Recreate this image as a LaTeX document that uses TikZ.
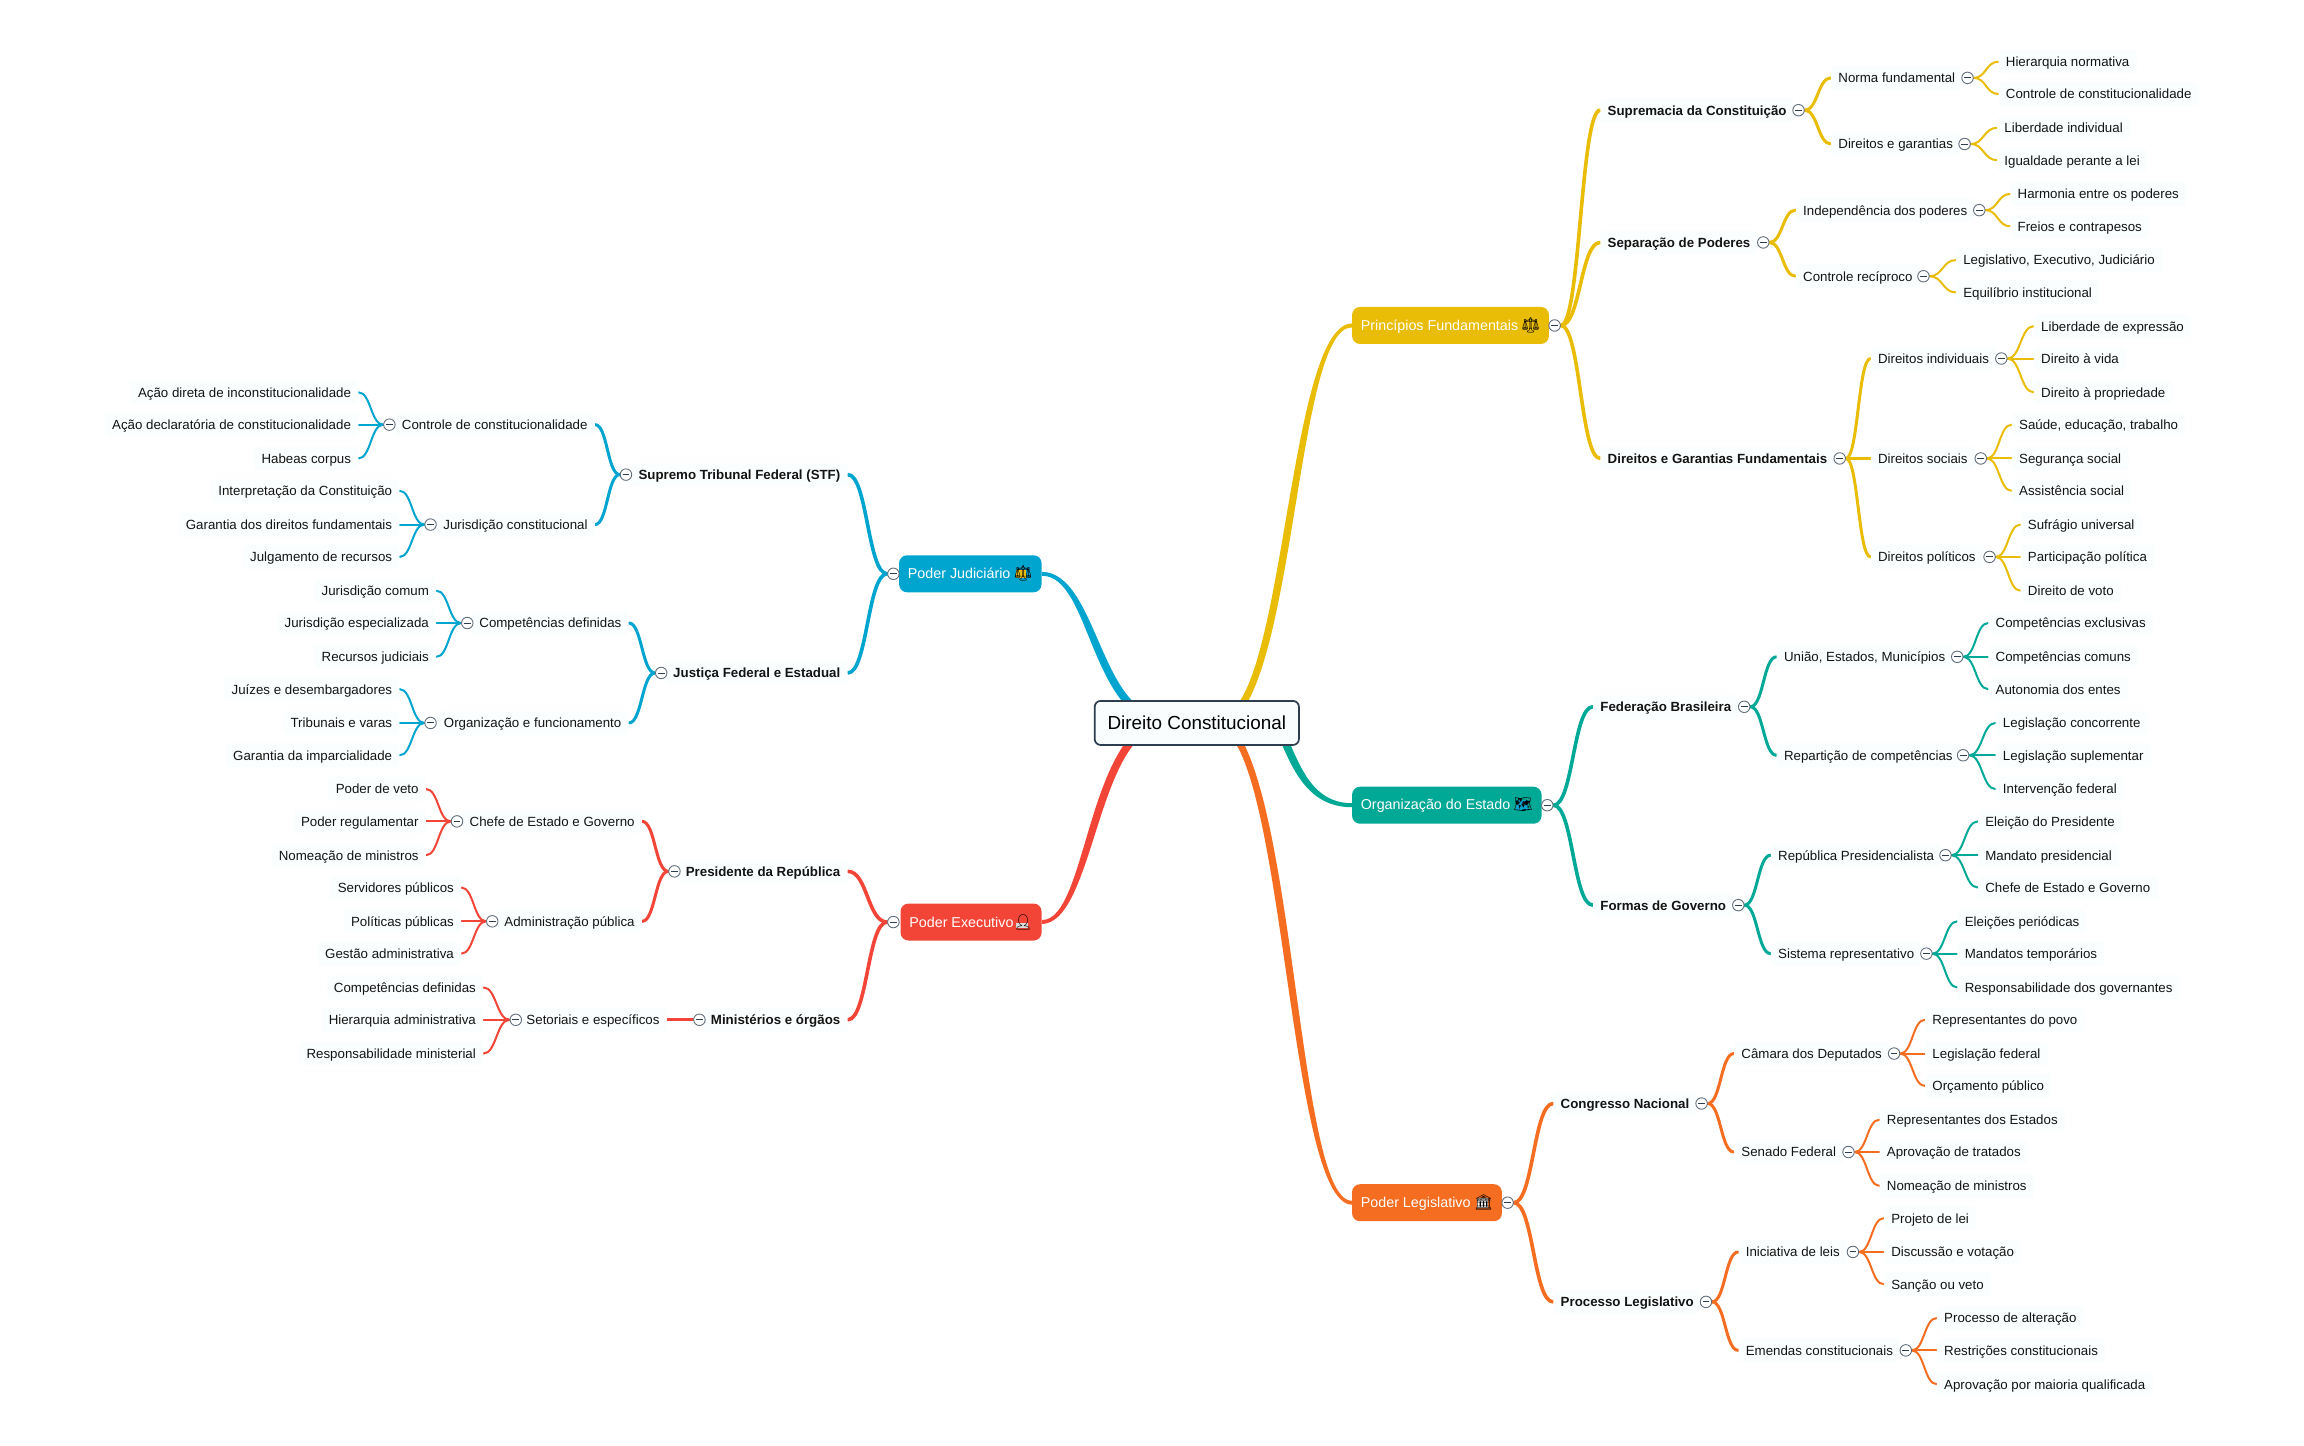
\documentclass[tikz,border=0pt]{standalone}
\usepackage{fontspec}
\setmainfont{Liberation Sans}
\newfontfamily\emo{Noto Emoji}
\usetikzlibrary{calc}
\pgfdeclarelayer{bg}
\pgfsetlayers{bg,main}
\newdimen\dd \dd=1.46939pt
\definecolor{cyel}{HTML}{E9BC05}
\definecolor{cblu}{HTML}{00A5CF}
\definecolor{ctea}{HTML}{00A896}
\definecolor{cred}{HTML}{F24537}
\definecolor{cora}{HTML}{F46D20}
\definecolor{cnav}{HTML}{2C3E50}
\definecolor{ctxt}{HTML}{141414}
\colorlet{cc}{cyel}
\tikzset{
  lvbase/.style={inner xsep=5\dd,inner ysep=0pt,minimum height=24pt,text height=11pt,text depth=1.2pt,fill=white!97!cblu!50!white,rounded corners=4pt,text=ctxt,font=\fontsize{13.3}{16}\selectfont},
  lv2/.style={lvbase,font=\fontsize{13.3}{16}\selectfont\bfseries},
  lv3/.style={lvbase},
  lv4/.style={lvbase},
  ln2/.style={draw=cc,line width=3.6pt,line cap=round},
  ln3/.style={draw=cc,line width=3pt,line cap=round},
  ln4/.style={draw=cc,line width=2pt,line cap=round},
  tog/.style={circle,draw=cnav!75!white,fill=white,line width=.9pt,minimum size=11.5pt,inner sep=0pt,
    path picture={\draw[cnav,line width=.9pt] ([xshift=-3.4pt]path picture bounding box.center)--([xshift=3.4pt]path picture bounding box.center);}},
  top/.style={fill=cc,rounded corners=8pt,inner xsep=6\dd,inner ysep=0pt,minimum height=37pt,text=white,font=\fontsize{14.3}{16}\selectfont},
  rootn/.style={draw=cnav,line width=1.7pt,fill=white!98!cblu,rounded corners=6pt,minimum width=139\dd,minimum height=30\dd,inner sep=0pt,text=black,font=\fontsize{18.9}{22}\selectfont}
}
% emoji: underlay colour, underlay width, height, raise (pt), glyph
\newcommand{\EM}[5]{{\emo\fontsize{15}{16}\selectfont\makebox[0pt][l]{\hspace{2.5pt}\raisebox{#4}{\textcolor{#1}{\rule{#2}{#3}}}}\textcolor{black}{#5}}}
% right-going child: level, name, from, text x, y, text
\newcommand{\RL}[6]{\node[lv#1,anchor=west] (#2) at (#4-5,#5) {#6};
 \begin{pgfonlayer}{bg}\draw[ln#1] let \p1=(#3.east),\p2=(#2.west) in (\p1) .. controls ({(\x1+\x2)/2},\y1) and ({(\x1+\x2)/2},\y2) .. (\p2);\end{pgfonlayer}}
% left-going child
\newcommand{\LL}[6]{\node[lv#1,anchor=east] (#2) at (#4+5,#5) {#6};
 \begin{pgfonlayer}{bg}\draw[ln#1] let \p1=(#3.west),\p2=(#2.east) in (\p1) .. controls ({(\x1+\x2)/2},\y1) and ({(\x1+\x2)/2},\y2) .. (\p2);\end{pgfonlayer}}
\newcommand{\TG}[3]{\node[tog] (#1) at (#2,#3) {};}
% tapered root link: s, c1, c2, end node anchor
\newcommand{\TP}[4]{\begin{pgfonlayer}{bg}
 \coordinate (s) at #1; \coordinate (p) at #2; \coordinate (q) at #3; \coordinate (e) at #4;
 \coordinate (d) at ($(q)+(e)-(p)$);
 \fill[cc] ($(s)!6pt!90:(p)$) .. controls ($(p)!5.5pt!90:(q)$) and ($(q)!3.8pt!90:(d)$) .. ($(e)!2pt!-90:(q)$)
   -- ($(e)!2pt!90:(q)$) .. controls ($(q)!3.8pt!-90:(d)$) and ($(p)!5.5pt!-90:(q)$) .. ($(s)!6pt!-90:(p)$) -- cycle;
 \end{pgfonlayer}}
\begin{document}
\begin{tikzpicture}[x=1.46939pt,y=-1.46939pt]
\useasboundingbox (0,0) rectangle (1568,984.07);
\node[rootn] (root) at (814.5,492) {Direito Constitucional};

% ---------- Principios
\colorlet{cc}{cyel}
\node[top,anchor=west] (A) at (920,221.5) {\hbox to 122\dd{Princípios Fundamentais\hfill\EM{cyel}{0pt}{0pt}{0pt}{^^^^2696}}};
\TP{(829,491)}{(878,491)}{(878,221.5)}{(A.west)}
\TG{tA}{1058}{221.5}
\RL{2}{A1}{tA}{1094}{75}{Supremacia da Constituição}
\TG{tA1}{1224}{75}
\RL{3}{A11}{tA1}{1251}{53}{Norma fundamental}
\TG{tA11}{1339}{53}
\RL{4}{A111}{tA11}{1365}{42}{Hierarquia normativa}
\RL{4}{A112}{tA11}{1365}{64}{Controle de constitucionalidade}
\RL{3}{A12}{tA1}{1251}{98}{Direitos e garantias}
\TG{tA12}{1337}{98}
\RL{4}{A121}{tA12}{1364}{87}{Liberdade individual}
\RL{4}{A122}{tA12}{1364}{109}{Igualdade perante a lei}
\RL{2}{A2}{tA}{1094}{165}{Separação de Poderes}
\TG{tA2}{1200}{165}
\RL{3}{A21}{tA2}{1227}{143}{Independência dos poderes}
\TG{tA21}{1347}{143}
\RL{4}{A211}{tA21}{1373}{132}{Harmonia entre os poderes}
\RL{4}{A212}{tA21}{1373}{154}{Freios e contrapesos}
\RL{3}{A22}{tA2}{1227}{188}{Controle recíproco}
\TG{tA22}{1309}{188}
\RL{4}{A221}{tA22}{1336}{177}{Legislativo, Executivo, Judiciário}
\RL{4}{A222}{tA22}{1336}{199}{Equilíbrio institucional}
\RL{2}{A3}{tA}{1094}{312}{Direitos e Garantias Fundamentais}
\TG{tA3}{1252}{312}
\RL{3}{A31}{tA3}{1278}{244}{Direitos individuais}
\TG{tA31}{1362}{244}
\RL{4}{A311}{tA31}{1389}{222}{Liberdade de expressão}
\RL{4}{A312}{tA31}{1389}{244}{Direito à vida}
\RL{4}{A313}{tA31}{1389}{267}{Direito à propriedade}
\RL{3}{A32}{tA3}{1278}{312}{Direitos sociais}
\TG{tA32}{1348}{312}
\RL{4}{A321}{tA32}{1374}{289}{Saúde, educação, trabalho}
\RL{4}{A322}{tA32}{1374}{312}{Segurança social}
\RL{4}{A323}{tA32}{1374}{334}{Assistência social}
\RL{3}{A33}{tA3}{1278}{379}{Direitos políticos}
\TG{tA33}{1354}{379}
\RL{4}{A331}{tA33}{1380}{357}{Sufrágio universal}
\RL{4}{A332}{tA33}{1380}{379}{Participação política}
\RL{4}{A333}{tA33}{1380}{402}{Direito de voto}

% ---------- Organizacao
\colorlet{cc}{ctea}
\node[top,anchor=west] (B) at (920,548) {\hbox to 117\dd{Organização do Estado\hfill\EM{cblu}{12pt}{10pt}{-0.5pt}{^^^^^^01f5fa}}};
\TP{(862,491)}{(878,491)}{(878,548)}{(B.west)}
\TG{tB}{1053}{548}
\RL{2}{B1}{tB}{1089}{481}{Federação Brasileira}
\TG{tB1}{1187}{481}
\RL{3}{B11}{tB1}{1214}{447}{União, Estados, Municípios}
\TG{tB11}{1332}{447}
\RL{4}{B111}{tB11}{1358}{424}{Competências exclusivas}
\RL{4}{B112}{tB11}{1358}{447}{Competências comuns}
\RL{4}{B113}{tB11}{1358}{469}{Autonomia dos entes}
\RL{3}{B12}{tB1}{1214}{514}{Repartição de competências}
\TG{tB12}{1336}{514}
\RL{4}{B121}{tB12}{1363}{492}{Legislação concorrente}
\RL{4}{B122}{tB12}{1363}{514}{Legislação suplementar}
\RL{4}{B123}{tB12}{1363}{537}{Intervenção federal}
\RL{2}{B2}{tB}{1089}{616}{Formas de Governo}
\TG{tB2}{1183}{616}
\RL{3}{B21}{tB2}{1210}{582}{República Presidencialista}
\TG{tB21}{1324}{582}
\RL{4}{B211}{tB21}{1351}{559}{Eleição do Presidente}
\RL{4}{B212}{tB21}{1351}{582}{Mandato presidencial}
\RL{4}{B213}{tB21}{1351}{604}{Chefe de Estado e Governo}
\RL{3}{B22}{tB2}{1210}{649}{Sistema representativo}
\TG{tB22}{1311}{649}
\RL{4}{B221}{tB22}{1337}{627}{Eleições periódicas}
\RL{4}{B222}{tB22}{1337}{649}{Mandatos temporários}
\RL{4}{B223}{tB22}{1337}{672}{Responsabilidade dos governantes}

% ---------- Legislativo
\colorlet{cc}{cora}
\node[top,anchor=west] (C) at (920,818.5) {\hbox to 90\dd{Poder Legislativo\hfill\EM{white}{11pt}{10pt}{-0.5pt}{^^^^^^01f3db}}};
\TP{(826,491)}{(878,491)}{(878,818.5)}{(C.west)}
\TG{tC}{1026}{818.5}
\RL{2}{C1}{tC}{1062}{751}{Congresso Nacional}
\TG{tC1}{1158}{751}
\RL{3}{C11}{tC1}{1185}{717}{Câmara dos Deputados}
\TG{tC11}{1289}{717}
\RL{4}{C111}{tC11}{1315}{694}{Representantes do povo}
\RL{4}{C112}{tC11}{1315}{717}{Legislação federal}
\RL{4}{C113}{tC11}{1315}{739}{Orçamento público}
\RL{3}{C12}{tC1}{1185}{784}{Senado Federal}
\TG{tC12}{1258}{784}
\RL{4}{C121}{tC12}{1284}{762}{Representantes dos Estados}
\RL{4}{C122}{tC12}{1284}{784}{Aprovação de tratados}
\RL{4}{C123}{tC12}{1284}{807}{Nomeação de ministros}
\RL{2}{C2}{tC}{1062}{886}{Processo Legislativo}
\TG{tC2}{1161}{886}
\RL{3}{C21}{tC2}{1188}{852}{Iniciativa de leis}
\TG{tC21}{1261}{852}
\RL{4}{C211}{tC21}{1287}{829}{Projeto de lei}
\RL{4}{C212}{tC21}{1287}{852}{Discussão e votação}
\RL{4}{C213}{tC21}{1287}{874}{Sanção ou veto}
\RL{3}{C22}{tC2}{1188}{919}{Emendas constitucionais}
\TG{tC22}{1297}{919}
\RL{4}{C221}{tC22}{1323}{897}{Processo de alteração}
\RL{4}{C222}{tC22}{1323}{919}{Restrições constitucionais}
\RL{4}{C223}{tC22}{1323}{942}{Aprovação por maioria qualificada}

% ---------- Judiciario
\colorlet{cc}{cblu}
\node[top,anchor=east] (D) at (709,390.5) {\hbox to 85\dd{Poder Judiciário\hfill\EM{cyel}{10pt}{8pt}{1pt}{^^^^2696}}};
\TP{(795,491)}{(745,491)}{(745,390.5)}{(D.east)}
\TG{tD}{608}{390.5}
\LL{2}{D1}{tD}{572}{323}{Supremo Tribunal Federal (STF)}
\TG{tD1}{426}{323}
\LL{3}{D11}{tD1}{400}{289}{Controle de constitucionalidade}
\TG{tD11}{265}{289}
\LL{4}{D111}{tD11}{239}{267}{Ação direta de inconstitucionalidade}
\LL{4}{D112}{tD11}{239}{289}{Ação declaratória de constitucionalidade}
\LL{4}{D113}{tD11}{239}{312}{Habeas corpus}
\LL{3}{D12}{tD1}{400}{357}{Jurisdição constitucional}
\TG{tD12}{293}{357}
\LL{4}{D121}{tD12}{267}{334}{Interpretação da Constituição}
\LL{4}{D122}{tD12}{267}{357}{Garantia dos direitos fundamentais}
\LL{4}{D123}{tD12}{267}{379}{Julgamento de recursos}
\LL{2}{D2}{tD}{572}{458}{Justiça Federal e Estadual}
\TG{tD2}{450}{458}
\LL{3}{D21}{tD2}{423}{424}{Competências definidas}
\TG{tD21}{318}{424}
\LL{4}{D211}{tD21}{292}{402}{Jurisdição comum}
\LL{4}{D212}{tD21}{292}{424}{Jurisdição especializada}
\LL{4}{D213}{tD21}{292}{447}{Recursos judiciais}
\LL{3}{D22}{tD2}{423}{492}{Organização e funcionamento}
\TG{tD22}{293}{492}
\LL{4}{D221}{tD22}{267}{469}{Juízes e desembargadores}
\LL{4}{D222}{tD22}{267}{492}{Tribunais e varas}
\LL{4}{D223}{tD22}{267}{514}{Garantia da imparcialidade}

% ---------- Executivo
\colorlet{cc}{cred}
\node[top,anchor=east] (E) at (709,627.5) {\hbox to 84\dd{Poder Executivo\hfill\EM{black!15}{12pt}{5pt}{-0.5pt}{^^^^^^01f464}}};
\TP{(795,491)}{(743,491)}{(743,627.5)}{(E.east)}
\TG{tE}{608}{627.5}
\LL{2}{E1}{tE}{572}{593}{Presidente da República}
\TG{tE1}{459}{593}
\LL{3}{E11}{tE1}{432}{559}{Chefe de Estado e Governo}
\TG{tE11}{311}{559}
\LL{4}{E111}{tE11}{285}{537}{Poder de veto}
\LL{4}{E112}{tE11}{285}{559}{Poder regulamentar}
\LL{4}{E113}{tE11}{285}{582}{Nomeação de ministros}
\LL{3}{E12}{tE1}{432}{627}{Administração pública}
\TG{tE12}{335}{627}
\LL{4}{E121}{tE12}{309}{604}{Servidores públicos}
\LL{4}{E122}{tE12}{309}{627}{Políticas públicas}
\LL{4}{E123}{tE12}{309}{649}{Gestão administrativa}
\LL{2}{E2}{tE}{572}{694}{Ministérios e órgãos}
\TG{tE2}{476}{694}
\LL{3}{E21}{tE2}{449}{694}{Setoriais e específicos}
\TG{tE21}{351}{694}
\LL{4}{E211}{tE21}{324}{672}{Competências definidas}
\LL{4}{E212}{tE21}{324}{694}{Hierarquia administrativa}
\LL{4}{E213}{tE21}{324}{717}{Responsabilidade ministerial}
\end{tikzpicture}
\end{document}
